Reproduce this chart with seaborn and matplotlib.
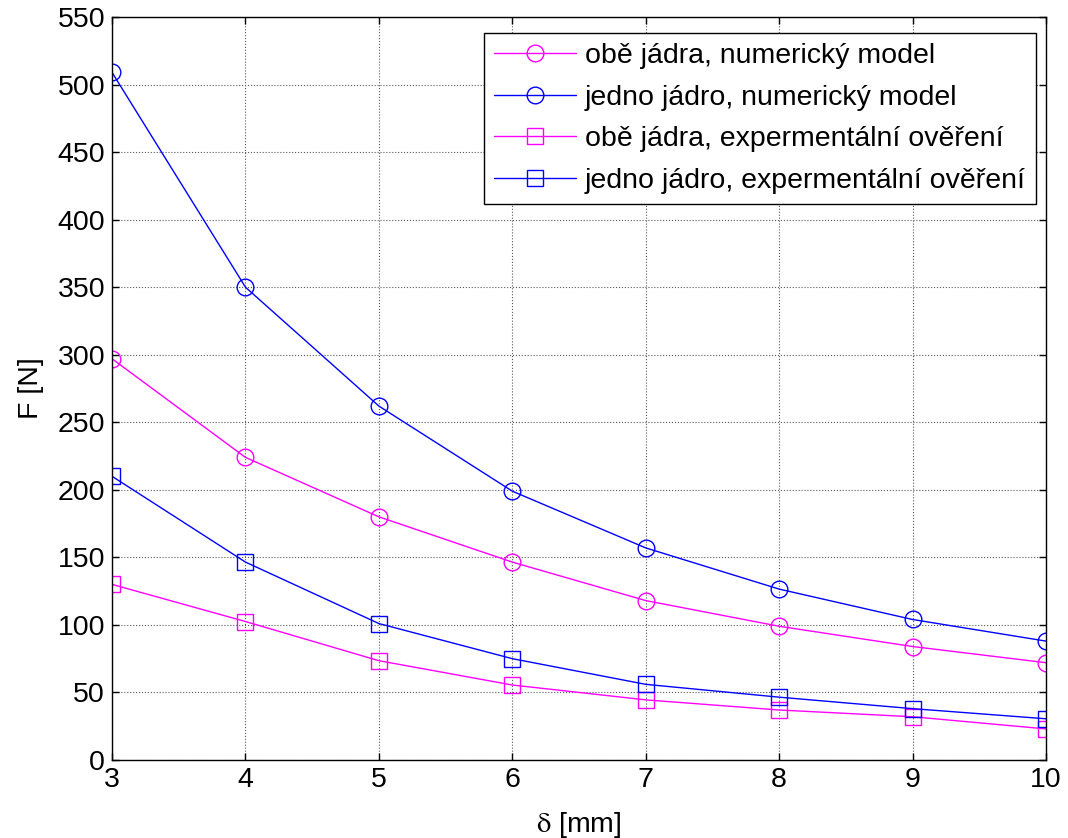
import numpy as np
import pandas as pd
import matplotlib
matplotlib.use("Agg")
import matplotlib.pyplot as plt
import seaborn as sns

# --- DATA ---
delta_mm = [3, 4, 5, 6, 7, 8, 9, 10]
obe_numeric = [297, 224, 180, 146.5, 118, 99, 84, 72]
jedno_numeric = [509, 350, 262, 199, 157, 126.5, 104, 88]
obe_exper = [130, 102.5, 73.5, 55.5, 44.5, 37, 32, 23]
jedno_exper = [210, 146.5, 101, 75, 56, 46.5, 38, 30.5]

labels = ["obě jádra, numerický model",
          "jedno jádro, numerický model",
          "obě jádra, expermentální ověření",
          "jedno jádro, expermentální ověření"]
series = [obe_numeric, jedno_numeric, obe_exper, jedno_exper]
colors = ["#ff00ff", "#0000ff", "#ff00ff", "#0000ff"]
markers = ["o", "o", "s", "s"]

# --- STYLE ---
sns.set_style("ticks")
plt.rcParams['font.family'] = ['Liberation Sans', 'DejaVu Sans']
plt.rcParams['mathtext.fontset'] = 'stix'
plt.rcParams['text.color'] = 'black'
plt.rcParams['axes.labelcolor'] = 'black'
plt.rcParams['xtick.color'] = 'black'
plt.rcParams['ytick.color'] = 'black'
plt.rcParams['xtick.direction'] = 'in'
plt.rcParams['ytick.direction'] = 'in'

FS = 20.5

fig = plt.figure(figsize=(10.68, 8.38), dpi=100)
ax = fig.add_axes([0.1049, 0.0931, 0.8745, 0.8866])

for lab, vals, col, mk in zip(labels, series, colors, markers):
    sns.lineplot(x=delta_mm, y=vals, ax=ax, color=col, marker=mk,
                 markersize=12, markerfacecolor='none', markeredgecolor=col,
                 markeredgewidth=1.0, linewidth=1.0, label=lab)

ax.set_xlim(3, 10)
ax.set_ylim(0, 550)
ax.set_xticks(np.arange(3, 11, 1))
ax.set_yticks(np.arange(0, 551, 50))
ax.grid(True, linestyle=':', color='0.35', linewidth=0.8)
ax.tick_params(axis='both', which='both', top=True, right=True,
               length=5, width=1, labelsize=FS, pad=5)
for sp in ax.spines.values():
    sp.set_visible(True)
    sp.set_color('black')
    sp.set_linewidth(1.0)

ax.set_xlabel(r"$\mathrm{\delta}$ [mm]", fontsize=FS, labelpad=12)
ax.set_ylabel("F [N]", fontsize=FS, labelpad=10)

leg = ax.legend(loc='upper right', bbox_to_anchor=(0.9893, 0.9785), fontsize=FS,
                frameon=True, fancybox=False, edgecolor='black', framealpha=1,
                borderaxespad=0, handlelength=2.9, borderpad=0.35,
                labelspacing=0.55, handletextpad=0.3)
leg.get_frame().set_linewidth(1.0)

fig.savefig("out.png", dpi=100)
